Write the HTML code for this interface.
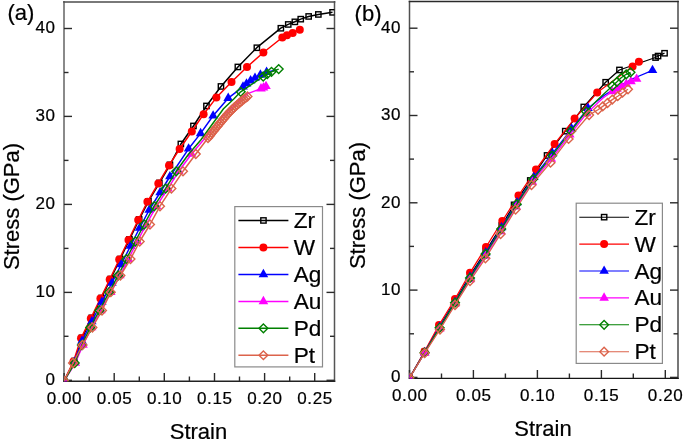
<!DOCTYPE html>
<html><head><meta charset="utf-8"><style>
html,body{margin:0;padding:0;background:#fff;}
svg{display:block;will-change:transform;}
text{font-family:"Liberation Sans", sans-serif;fill:#000;stroke:#000;stroke-width:0.22px;}
</style></head><body>
<svg width="685" height="440" viewBox="0 0 685 440">
<rect width="685" height="440" fill="#fff"/>
<line x1="64" y1="1.0" x2="64" y2="381.8" stroke="#8a8a8a" stroke-width="2"/>
<line x1="334.5" y1="1.0" x2="334.5" y2="381.8" stroke="#555" stroke-width="1.5"/>
<line x1="63.2" y1="2.0" x2="335.3" y2="2.0" stroke="#4d4d4d" stroke-width="1.6"/>
<line x1="63.2" y1="381.2" x2="335.3" y2="381.2" stroke="#222" stroke-width="1.6"/>
<line x1="64" y1="380.3" x2="72" y2="380.3" stroke="#2a2a2a" stroke-width="1.4"/>
<line x1="334.5" y1="380.3" x2="326.5" y2="380.3" stroke="#2a2a2a" stroke-width="1.4"/>
<line x1="64" y1="292.4" x2="72" y2="292.4" stroke="#2a2a2a" stroke-width="1.4"/>
<line x1="334.5" y1="292.4" x2="326.5" y2="292.4" stroke="#2a2a2a" stroke-width="1.4"/>
<line x1="64" y1="204.4" x2="72" y2="204.4" stroke="#2a2a2a" stroke-width="1.4"/>
<line x1="334.5" y1="204.4" x2="326.5" y2="204.4" stroke="#2a2a2a" stroke-width="1.4"/>
<line x1="64" y1="116.4" x2="72" y2="116.4" stroke="#2a2a2a" stroke-width="1.4"/>
<line x1="334.5" y1="116.4" x2="326.5" y2="116.4" stroke="#2a2a2a" stroke-width="1.4"/>
<line x1="64" y1="28.5" x2="72" y2="28.5" stroke="#2a2a2a" stroke-width="1.4"/>
<line x1="334.5" y1="28.5" x2="326.5" y2="28.5" stroke="#2a2a2a" stroke-width="1.4"/>
<line x1="64" y1="336.3" x2="68.5" y2="336.3" stroke="#2a2a2a" stroke-width="1.4"/>
<line x1="334.5" y1="336.3" x2="330.0" y2="336.3" stroke="#2a2a2a" stroke-width="1.4"/>
<line x1="64" y1="248.4" x2="68.5" y2="248.4" stroke="#2a2a2a" stroke-width="1.4"/>
<line x1="334.5" y1="248.4" x2="330.0" y2="248.4" stroke="#2a2a2a" stroke-width="1.4"/>
<line x1="64" y1="160.4" x2="68.5" y2="160.4" stroke="#2a2a2a" stroke-width="1.4"/>
<line x1="334.5" y1="160.4" x2="330.0" y2="160.4" stroke="#2a2a2a" stroke-width="1.4"/>
<line x1="64" y1="72.5" x2="68.5" y2="72.5" stroke="#2a2a2a" stroke-width="1.4"/>
<line x1="334.5" y1="72.5" x2="330.0" y2="72.5" stroke="#2a2a2a" stroke-width="1.4"/>
<line x1="64.1" y1="381" x2="64.1" y2="373" stroke="#2a2a2a" stroke-width="1.4"/>
<line x1="114.2" y1="381" x2="114.2" y2="373" stroke="#2a2a2a" stroke-width="1.4"/>
<line x1="164.3" y1="381" x2="164.3" y2="373" stroke="#2a2a2a" stroke-width="1.4"/>
<line x1="214.5" y1="381" x2="214.5" y2="373" stroke="#2a2a2a" stroke-width="1.4"/>
<line x1="264.6" y1="381" x2="264.6" y2="373" stroke="#2a2a2a" stroke-width="1.4"/>
<line x1="314.7" y1="381" x2="314.7" y2="373" stroke="#2a2a2a" stroke-width="1.4"/>
<line x1="89.2" y1="381" x2="89.2" y2="376.5" stroke="#2a2a2a" stroke-width="1.4"/>
<line x1="139.3" y1="381" x2="139.3" y2="376.5" stroke="#2a2a2a" stroke-width="1.4"/>
<line x1="189.4" y1="381" x2="189.4" y2="376.5" stroke="#2a2a2a" stroke-width="1.4"/>
<line x1="239.5" y1="381" x2="239.5" y2="376.5" stroke="#2a2a2a" stroke-width="1.4"/>
<line x1="289.7" y1="381" x2="289.7" y2="376.5" stroke="#2a2a2a" stroke-width="1.4"/>
<text x="55.5" y="385.0" text-anchor="end" font-size="17" letter-spacing="0.6">0</text>
<text x="55.5" y="297.1" text-anchor="end" font-size="17" letter-spacing="0.6">10</text>
<text x="55.5" y="209.1" text-anchor="end" font-size="17" letter-spacing="0.6">20</text>
<text x="55.5" y="121.1" text-anchor="end" font-size="17" letter-spacing="0.6">30</text>
<text x="55.5" y="33.2" text-anchor="end" font-size="17" letter-spacing="0.6">40</text>
<text x="64.4" y="404.2" text-anchor="middle" font-size="17" letter-spacing="0.6">0.00</text>
<text x="114.5" y="404.2" text-anchor="middle" font-size="17" letter-spacing="0.6">0.05</text>
<text x="164.7" y="404.2" text-anchor="middle" font-size="17" letter-spacing="0.6">0.10</text>
<text x="214.8" y="404.2" text-anchor="middle" font-size="17" letter-spacing="0.6">0.15</text>
<text x="264.9" y="404.2" text-anchor="middle" font-size="17" letter-spacing="0.6">0.20</text>
<text x="315.0" y="404.2" text-anchor="middle" font-size="17" letter-spacing="0.6">0.25</text>
<defs><clipPath id="ca"><rect x="64" y="2" width="270.5" height="379.2"/></clipPath><clipPath id="cb"><rect x="409.5" y="1.5" width="268.5" height="376.9"/></clipPath></defs>
<g clip-path="url(#ca)">
<path d="M64.0,381.0 L74.5,361.0 L82.0,337.8 L91.8,317.9 L101.4,298.0 L110.7,279.0 L120.2,259.0 L129.5,239.5 L139.2,219.5 L148.4,201.3 L159.3,183.0 L170.0,164.9 L180.9,144.0 L193.4,126.0 L206.4,106.0 L221.0,86.5 L237.9,67.0 L256.8,47.7 L280.8,28.2 L288.2,24.4 L294.8,21.8 L300.7,19.1 L308.6,16.5 L318.3,14.4 L332.5,12.3" fill="none" stroke="#000000" stroke-width="1.5" stroke-linejoin="round"/>
<rect x="61.4" y="378.4" width="5.3" height="5.3" fill="none" stroke="#000000" stroke-width="1.4"/>
<rect x="71.8" y="358.4" width="5.3" height="5.3" fill="none" stroke="#000000" stroke-width="1.4"/>
<rect x="79.3" y="335.2" width="5.3" height="5.3" fill="none" stroke="#000000" stroke-width="1.4"/>
<rect x="89.1" y="315.2" width="5.3" height="5.3" fill="none" stroke="#000000" stroke-width="1.4"/>
<rect x="98.8" y="295.4" width="5.3" height="5.3" fill="none" stroke="#000000" stroke-width="1.4"/>
<rect x="108.0" y="276.4" width="5.3" height="5.3" fill="none" stroke="#000000" stroke-width="1.4"/>
<rect x="117.5" y="256.4" width="5.3" height="5.3" fill="none" stroke="#000000" stroke-width="1.4"/>
<rect x="126.8" y="236.8" width="5.3" height="5.3" fill="none" stroke="#000000" stroke-width="1.4"/>
<rect x="136.5" y="216.8" width="5.3" height="5.3" fill="none" stroke="#000000" stroke-width="1.4"/>
<rect x="145.8" y="198.7" width="5.3" height="5.3" fill="none" stroke="#000000" stroke-width="1.4"/>
<rect x="156.7" y="180.3" width="5.3" height="5.3" fill="none" stroke="#000000" stroke-width="1.4"/>
<rect x="167.3" y="162.2" width="5.3" height="5.3" fill="none" stroke="#000000" stroke-width="1.4"/>
<rect x="178.2" y="141.3" width="5.3" height="5.3" fill="none" stroke="#000000" stroke-width="1.4"/>
<rect x="190.8" y="123.3" width="5.3" height="5.3" fill="none" stroke="#000000" stroke-width="1.4"/>
<rect x="203.8" y="103.3" width="5.3" height="5.3" fill="none" stroke="#000000" stroke-width="1.4"/>
<rect x="218.3" y="83.8" width="5.3" height="5.3" fill="none" stroke="#000000" stroke-width="1.4"/>
<rect x="235.2" y="64.3" width="5.3" height="5.3" fill="none" stroke="#000000" stroke-width="1.4"/>
<rect x="254.2" y="45.1" width="5.3" height="5.3" fill="none" stroke="#000000" stroke-width="1.4"/>
<rect x="278.2" y="25.6" width="5.3" height="5.3" fill="none" stroke="#000000" stroke-width="1.4"/>
<rect x="285.6" y="21.8" width="5.3" height="5.3" fill="none" stroke="#000000" stroke-width="1.4"/>
<rect x="292.2" y="19.2" width="5.3" height="5.3" fill="none" stroke="#000000" stroke-width="1.4"/>
<rect x="298.1" y="16.5" width="5.3" height="5.3" fill="none" stroke="#000000" stroke-width="1.4"/>
<rect x="306.0" y="13.8" width="5.3" height="5.3" fill="none" stroke="#000000" stroke-width="1.4"/>
<rect x="315.7" y="11.8" width="5.3" height="5.3" fill="none" stroke="#000000" stroke-width="1.4"/>
<rect x="329.9" y="9.7" width="5.3" height="5.3" fill="none" stroke="#000000" stroke-width="1.4"/>
<path d="M64.0,381.0 L73.5,361.5 L81.0,338.3 L90.8,318.4 L100.4,298.5 L109.7,279.5 L119.2,259.5 L128.5,240.0 L138.2,220.0 L147.4,201.8 L158.3,183.5 L169.0,165.4 L179.6,149.0 L191.8,131.5 L203.6,114.2 L216.4,97.6 L231.5,82.0 L247.0,67.0 L263.4,52.5 L282.3,37.5 L287.0,35.2 L292.7,33.0 L299.8,29.8" fill="none" stroke="#ff0000" stroke-width="1.5" stroke-linejoin="round"/>
<circle cx="64.0" cy="381.0" r="4.0" fill="#ff0000"/>
<circle cx="73.5" cy="361.5" r="4.0" fill="#ff0000"/>
<circle cx="81.0" cy="338.3" r="4.0" fill="#ff0000"/>
<circle cx="90.8" cy="318.4" r="4.0" fill="#ff0000"/>
<circle cx="100.4" cy="298.5" r="4.0" fill="#ff0000"/>
<circle cx="109.7" cy="279.5" r="4.0" fill="#ff0000"/>
<circle cx="119.2" cy="259.5" r="4.0" fill="#ff0000"/>
<circle cx="128.5" cy="240.0" r="4.0" fill="#ff0000"/>
<circle cx="138.2" cy="220.0" r="4.0" fill="#ff0000"/>
<circle cx="147.4" cy="201.8" r="4.0" fill="#ff0000"/>
<circle cx="158.3" cy="183.5" r="4.0" fill="#ff0000"/>
<circle cx="169.0" cy="165.4" r="4.0" fill="#ff0000"/>
<circle cx="179.6" cy="149.0" r="4.0" fill="#ff0000"/>
<circle cx="191.8" cy="131.5" r="4.0" fill="#ff0000"/>
<circle cx="203.6" cy="114.2" r="4.0" fill="#ff0000"/>
<circle cx="216.4" cy="97.6" r="4.0" fill="#ff0000"/>
<circle cx="231.5" cy="82.0" r="4.0" fill="#ff0000"/>
<circle cx="247.0" cy="67.0" r="4.0" fill="#ff0000"/>
<circle cx="263.4" cy="52.5" r="4.0" fill="#ff0000"/>
<circle cx="282.3" cy="37.5" r="4.0" fill="#ff0000"/>
<circle cx="287.0" cy="35.2" r="4.0" fill="#ff0000"/>
<circle cx="292.7" cy="33.0" r="4.0" fill="#ff0000"/>
<circle cx="299.8" cy="29.8" r="4.0" fill="#ff0000"/>
<path d="M64.0,381.0 L74.3,362.0 L82.0,341.0 L91.8,321.5 L101.8,302.0 L111.9,283.0 L121.2,264.5 L130.5,246.0 L139.6,228.0 L149.2,210.0 L160.1,192.5 L169.9,176.5 L188.6,148.8 L200.6,133.4 L213.1,115.8 L228.2,98.2 L243.0,86.8 L246.5,83.8 L250.6,80.6 L255.0,78.0 L260.4,74.9 L266.6,72.2 L276.5,70.0" fill="none" stroke="#0000ff" stroke-width="1.5" stroke-linejoin="round"/>
<path d="M64.0,375.4L68.8,383.8L59.2,383.8Z" fill="#0000ff"/>
<path d="M74.3,356.4L79.1,364.8L69.5,364.8Z" fill="#0000ff"/>
<path d="M82.0,335.4L86.8,343.8L77.2,343.8Z" fill="#0000ff"/>
<path d="M91.8,315.9L96.6,324.3L87.0,324.3Z" fill="#0000ff"/>
<path d="M101.8,296.4L106.6,304.8L97.0,304.8Z" fill="#0000ff"/>
<path d="M111.9,277.4L116.7,285.8L107.1,285.8Z" fill="#0000ff"/>
<path d="M121.2,258.9L126.0,267.3L116.4,267.3Z" fill="#0000ff"/>
<path d="M130.5,240.4L135.3,248.8L125.7,248.8Z" fill="#0000ff"/>
<path d="M139.6,222.4L144.4,230.8L134.8,230.8Z" fill="#0000ff"/>
<path d="M149.2,204.4L154.0,212.8L144.4,212.8Z" fill="#0000ff"/>
<path d="M160.1,186.9L164.9,195.3L155.3,195.3Z" fill="#0000ff"/>
<path d="M169.9,170.9L174.7,179.3L165.1,179.3Z" fill="#0000ff"/>
<path d="M188.6,143.2L193.4,151.6L183.8,151.6Z" fill="#0000ff"/>
<path d="M200.6,127.8L205.4,136.2L195.8,136.2Z" fill="#0000ff"/>
<path d="M213.1,110.2L217.9,118.6L208.3,118.6Z" fill="#0000ff"/>
<path d="M228.2,92.6L233.0,101.0L223.4,101.0Z" fill="#0000ff"/>
<path d="M243.0,81.2L247.8,89.6L238.2,89.6Z" fill="#0000ff"/>
<path d="M246.5,78.2L251.3,86.6L241.7,86.6Z" fill="#0000ff"/>
<path d="M250.6,75.0L255.4,83.4L245.8,83.4Z" fill="#0000ff"/>
<path d="M255.0,72.4L259.8,80.8L250.2,80.8Z" fill="#0000ff"/>
<path d="M260.4,69.3L265.2,77.7L255.6,77.7Z" fill="#0000ff"/>
<path d="M266.6,66.6L271.4,75.0L261.8,75.0Z" fill="#0000ff"/>
<path d="M64.0,381.0 L75.3,363.0 L83.0,345.0 L91.6,327.5 L100.9,310.5 L110.8,292.2 L119.9,275.5 L128.3,259.1 L137.3,241.5 L146.3,224.5 L156.5,206.2 L167.9,188.6 L178.7,171.3 L191.5,154.0 L206.0,137.0 L214.0,126.0 L225.0,114.0 L237.0,103.0 L247.8,93.6 L261.0,88.7 L263.5,87.6 L266.0,86.3" fill="none" stroke="#ff00ff" stroke-width="1.5" stroke-linejoin="round"/>
<path d="M64.0,375.4L68.8,383.8L59.2,383.8Z" fill="#ff00ff"/>
<path d="M75.3,357.4L80.1,365.8L70.5,365.8Z" fill="#ff00ff"/>
<path d="M83.0,339.4L87.8,347.8L78.2,347.8Z" fill="#ff00ff"/>
<path d="M91.6,321.9L96.4,330.3L86.8,330.3Z" fill="#ff00ff"/>
<path d="M100.9,304.9L105.7,313.3L96.1,313.3Z" fill="#ff00ff"/>
<path d="M110.8,286.6L115.6,295.0L106.0,295.0Z" fill="#ff00ff"/>
<path d="M119.9,269.9L124.7,278.3L115.1,278.3Z" fill="#ff00ff"/>
<path d="M128.3,253.5L133.1,261.9L123.5,261.9Z" fill="#ff00ff"/>
<path d="M137.3,235.9L142.1,244.3L132.5,244.3Z" fill="#ff00ff"/>
<path d="M146.3,218.9L151.1,227.3L141.5,227.3Z" fill="#ff00ff"/>
<path d="M156.5,200.7L161.3,209.1L151.7,209.1Z" fill="#ff00ff"/>
<path d="M167.9,183.0L172.7,191.4L163.1,191.4Z" fill="#ff00ff"/>
<path d="M178.7,165.7L183.5,174.1L173.9,174.1Z" fill="#ff00ff"/>
<path d="M191.5,148.4L196.3,156.8L186.7,156.8Z" fill="#ff00ff"/>
<path d="M261.0,83.1L265.8,91.5L256.2,91.5Z" fill="#ff00ff"/>
<path d="M263.5,82.0L268.3,90.4L258.7,90.4Z" fill="#ff00ff"/>
<path d="M266.0,80.7L270.8,89.1L261.2,89.1Z" fill="#ff00ff"/>
<path d="M64.0,381.0 L74.7,363.0 L81.9,345.0 L90.2,327.5 L99.4,310.5 L109.1,292.2 L118.1,275.5 L126.4,259.1 L135.3,241.5 L144.1,224.5 L154.2,206.2 L165.6,188.6 L176.2,171.3 L188.7,154.0 L200.8,140.0 L223.5,108.8 L234.0,98.8 L240.7,91.8 L263.2,76.5 L267.3,74.0 L271.5,71.8 L278.7,69.1" fill="none" stroke="#008000" stroke-width="1.5" stroke-linejoin="round"/>
<path d="M64.0,376.6L68.4,381.0L64.0,385.4L59.6,381.0Z" fill="none" stroke="#008000" stroke-width="1.4"/>
<path d="M74.7,358.6L79.1,363.0L74.7,367.4L70.3,363.0Z" fill="none" stroke="#008000" stroke-width="1.4"/>
<path d="M81.9,340.6L86.3,345.0L81.9,349.4L77.5,345.0Z" fill="none" stroke="#008000" stroke-width="1.4"/>
<path d="M90.2,323.1L94.6,327.5L90.2,331.9L85.8,327.5Z" fill="none" stroke="#008000" stroke-width="1.4"/>
<path d="M99.4,306.1L103.8,310.5L99.4,314.9L95.0,310.5Z" fill="none" stroke="#008000" stroke-width="1.4"/>
<path d="M109.1,287.8L113.5,292.2L109.1,296.6L104.7,292.2Z" fill="none" stroke="#008000" stroke-width="1.4"/>
<path d="M118.1,271.1L122.5,275.5L118.1,279.9L113.7,275.5Z" fill="none" stroke="#008000" stroke-width="1.4"/>
<path d="M126.4,254.7L130.8,259.1L126.4,263.5L122.0,259.1Z" fill="none" stroke="#008000" stroke-width="1.4"/>
<path d="M135.3,237.1L139.7,241.5L135.3,245.9L130.9,241.5Z" fill="none" stroke="#008000" stroke-width="1.4"/>
<path d="M144.1,220.1L148.5,224.5L144.1,228.9L139.7,224.5Z" fill="none" stroke="#008000" stroke-width="1.4"/>
<path d="M154.2,201.8L158.6,206.2L154.2,210.7L149.8,206.2Z" fill="none" stroke="#008000" stroke-width="1.4"/>
<path d="M165.6,184.2L170.0,188.6L165.6,193.0L161.2,188.6Z" fill="none" stroke="#008000" stroke-width="1.4"/>
<path d="M176.2,166.9L180.6,171.3L176.2,175.7L171.8,171.3Z" fill="none" stroke="#008000" stroke-width="1.4"/>
<path d="M240.7,87.4L245.1,91.8L240.7,96.2L236.3,91.8Z" fill="none" stroke="#008000" stroke-width="1.4"/>
<path d="M263.2,72.1L267.6,76.5L263.2,80.9L258.8,76.5Z" fill="none" stroke="#008000" stroke-width="1.4"/>
<path d="M267.3,69.6L271.7,74.0L267.3,78.4L262.9,74.0Z" fill="none" stroke="#008000" stroke-width="1.4"/>
<path d="M271.5,67.4L275.9,71.8L271.5,76.2L267.1,71.8Z" fill="none" stroke="#008000" stroke-width="1.4"/>
<path d="M278.7,64.7L283.1,69.1L278.7,73.5L274.3,69.1Z" fill="none" stroke="#008000" stroke-width="1.4"/>
<path d="M64.0,381.0 L73.0,363.0 L82.5,345.0 L92.4,327.5 L102.0,310.5 L110.8,292.2 L120.4,275.5 L130.5,259.1 L139.7,241.5 L150.0,224.5 L160.0,206.2 L171.4,188.6 L183.0,171.3 L195.8,154.0 L208.0,138.0 L209.4,136.3 L210.7,134.5 L212.1,132.8 L213.5,131.1 L214.9,129.4 L216.3,127.6 L217.7,125.9 L219.1,124.2 L220.5,122.5 L222.0,120.8 L223.4,119.1 L224.8,117.5 L226.2,115.8 L227.7,114.1 L229.2,112.5 L230.8,110.9 L232.3,109.4 L233.9,107.8 L235.5,106.3 L237.2,104.8 L238.9,103.4 L240.5,102.0 L242.2,100.5 L244.0,99.2 L245.7,97.8 L247.5,96.5" fill="none" stroke="#dc634b" stroke-width="1.5" stroke-linejoin="round"/>
<path d="M64.0,376.6L68.4,381.0L64.0,385.4L59.6,381.0Z" fill="none" stroke="#dc634b" stroke-width="1.4"/>
<path d="M73.0,358.6L77.4,363.0L73.0,367.4L68.6,363.0Z" fill="none" stroke="#dc634b" stroke-width="1.4"/>
<path d="M82.5,340.6L86.9,345.0L82.5,349.4L78.1,345.0Z" fill="none" stroke="#dc634b" stroke-width="1.4"/>
<path d="M92.4,323.1L96.8,327.5L92.4,331.9L88.0,327.5Z" fill="none" stroke="#dc634b" stroke-width="1.4"/>
<path d="M102.0,306.1L106.4,310.5L102.0,314.9L97.6,310.5Z" fill="none" stroke="#dc634b" stroke-width="1.4"/>
<path d="M110.8,287.8L115.2,292.2L110.8,296.6L106.4,292.2Z" fill="none" stroke="#dc634b" stroke-width="1.4"/>
<path d="M120.4,271.1L124.8,275.5L120.4,279.9L116.0,275.5Z" fill="none" stroke="#dc634b" stroke-width="1.4"/>
<path d="M130.5,254.7L134.9,259.1L130.5,263.5L126.1,259.1Z" fill="none" stroke="#dc634b" stroke-width="1.4"/>
<path d="M139.7,237.1L144.1,241.5L139.7,245.9L135.3,241.5Z" fill="none" stroke="#dc634b" stroke-width="1.4"/>
<path d="M150.0,220.1L154.4,224.5L150.0,228.9L145.6,224.5Z" fill="none" stroke="#dc634b" stroke-width="1.4"/>
<path d="M160.0,201.8L164.4,206.2L160.0,210.7L155.6,206.2Z" fill="none" stroke="#dc634b" stroke-width="1.4"/>
<path d="M171.4,184.2L175.8,188.6L171.4,193.0L167.0,188.6Z" fill="none" stroke="#dc634b" stroke-width="1.4"/>
<path d="M183.0,166.9L187.4,171.3L183.0,175.7L178.6,171.3Z" fill="none" stroke="#dc634b" stroke-width="1.4"/>
<path d="M195.8,149.6L200.2,154.0L195.8,158.4L191.4,154.0Z" fill="none" stroke="#dc634b" stroke-width="1.4"/>
<path d="M208.0,133.6L212.4,138.0L208.0,142.4L203.6,138.0Z" fill="none" stroke="#dc634b" stroke-width="1.4"/>
<path d="M209.4,131.9L213.8,136.3L209.4,140.7L205.0,136.3Z" fill="none" stroke="#dc634b" stroke-width="1.4"/>
<path d="M210.7,130.1L215.1,134.5L210.7,138.9L206.3,134.5Z" fill="none" stroke="#dc634b" stroke-width="1.4"/>
<path d="M212.1,128.4L216.5,132.8L212.1,137.2L207.7,132.8Z" fill="none" stroke="#dc634b" stroke-width="1.4"/>
<path d="M213.5,126.7L217.9,131.1L213.5,135.5L209.1,131.1Z" fill="none" stroke="#dc634b" stroke-width="1.4"/>
<path d="M214.9,125.0L219.3,129.4L214.9,133.8L210.5,129.4Z" fill="none" stroke="#dc634b" stroke-width="1.4"/>
<path d="M216.3,123.2L220.7,127.6L216.3,132.0L211.9,127.6Z" fill="none" stroke="#dc634b" stroke-width="1.4"/>
<path d="M217.7,121.5L222.1,125.9L217.7,130.3L213.3,125.9Z" fill="none" stroke="#dc634b" stroke-width="1.4"/>
<path d="M219.1,119.8L223.5,124.2L219.1,128.6L214.7,124.2Z" fill="none" stroke="#dc634b" stroke-width="1.4"/>
<path d="M220.5,118.1L224.9,122.5L220.5,126.9L216.1,122.5Z" fill="none" stroke="#dc634b" stroke-width="1.4"/>
<path d="M222.0,116.4L226.4,120.8L222.0,125.2L217.6,120.8Z" fill="none" stroke="#dc634b" stroke-width="1.4"/>
<path d="M223.4,114.7L227.8,119.1L223.4,123.5L219.0,119.1Z" fill="none" stroke="#dc634b" stroke-width="1.4"/>
<path d="M224.8,113.1L229.2,117.5L224.8,121.9L220.4,117.5Z" fill="none" stroke="#dc634b" stroke-width="1.4"/>
<path d="M226.2,111.4L230.6,115.8L226.2,120.2L221.8,115.8Z" fill="none" stroke="#dc634b" stroke-width="1.4"/>
<path d="M227.7,109.7L232.1,114.1L227.7,118.5L223.3,114.1Z" fill="none" stroke="#dc634b" stroke-width="1.4"/>
<path d="M229.2,108.1L233.6,112.5L229.2,116.9L224.8,112.5Z" fill="none" stroke="#dc634b" stroke-width="1.4"/>
<path d="M230.8,106.5L235.2,110.9L230.8,115.3L226.4,110.9Z" fill="none" stroke="#dc634b" stroke-width="1.4"/>
<path d="M232.3,105.0L236.7,109.4L232.3,113.8L227.9,109.4Z" fill="none" stroke="#dc634b" stroke-width="1.4"/>
<path d="M233.9,103.4L238.3,107.8L233.9,112.2L229.5,107.8Z" fill="none" stroke="#dc634b" stroke-width="1.4"/>
<path d="M235.5,101.9L239.9,106.3L235.5,110.7L231.1,106.3Z" fill="none" stroke="#dc634b" stroke-width="1.4"/>
<path d="M237.2,100.4L241.6,104.8L237.2,109.2L232.8,104.8Z" fill="none" stroke="#dc634b" stroke-width="1.4"/>
<path d="M238.9,99.0L243.3,103.4L238.9,107.8L234.5,103.4Z" fill="none" stroke="#dc634b" stroke-width="1.4"/>
<path d="M240.5,97.6L244.9,102.0L240.5,106.4L236.1,102.0Z" fill="none" stroke="#dc634b" stroke-width="1.4"/>
<path d="M242.2,96.1L246.6,100.5L242.2,104.9L237.8,100.5Z" fill="none" stroke="#dc634b" stroke-width="1.4"/>
<path d="M244.0,94.8L248.4,99.2L244.0,103.6L239.6,99.2Z" fill="none" stroke="#dc634b" stroke-width="1.4"/>
<path d="M245.7,93.4L250.1,97.8L245.7,102.2L241.3,97.8Z" fill="none" stroke="#dc634b" stroke-width="1.4"/>
<path d="M247.5,92.1L251.9,96.5L247.5,100.9L243.1,96.5Z" fill="none" stroke="#dc634b" stroke-width="1.4"/>
</g>
<rect x="234.8" y="206.6" width="87.7" height="160.3" fill="#fff" stroke="#8a8a8a" stroke-width="1.2"/>
<line x1="238.4" y1="220.5" x2="288.4" y2="220.5" stroke="#000000" stroke-width="1.5"/>
<rect x="260.8" y="217.8" width="5.3" height="5.3" fill="none" stroke="#000000" stroke-width="1.4"/>
<text x="293.8" y="228.0" font-size="22.6">Zr</text>
<line x1="238.4" y1="247.4" x2="288.4" y2="247.4" stroke="#ff0000" stroke-width="1.5"/>
<circle cx="263.4" cy="247.4" r="4.0" fill="#ff0000"/>
<text x="293.8" y="254.9" font-size="22.6">W</text>
<line x1="238.4" y1="274.4" x2="288.4" y2="274.4" stroke="#0000ff" stroke-width="1.5"/>
<path d="M263.4,268.8L268.2,277.2L258.6,277.2Z" fill="#0000ff"/>
<text x="293.8" y="281.9" font-size="22.6">Ag</text>
<line x1="238.4" y1="301.4" x2="288.4" y2="301.4" stroke="#ff00ff" stroke-width="1.5"/>
<path d="M263.4,295.8L268.2,304.2L258.6,304.2Z" fill="#ff00ff"/>
<text x="293.8" y="308.9" font-size="22.6">Au</text>
<line x1="238.4" y1="328.3" x2="288.4" y2="328.3" stroke="#008000" stroke-width="1.5"/>
<path d="M263.4,323.9L267.8,328.3L263.4,332.7L259.0,328.3Z" fill="none" stroke="#008000" stroke-width="1.4"/>
<text x="293.8" y="335.8" font-size="22.6">Pd</text>
<line x1="238.4" y1="355.2" x2="288.4" y2="355.2" stroke="#dc634b" stroke-width="1.5"/>
<path d="M263.4,350.9L267.8,355.2L263.4,359.6L259.0,355.2Z" fill="none" stroke="#dc634b" stroke-width="1.4"/>
<text x="293.8" y="362.8" font-size="22.6">Pt</text>
<text x="7.5" y="20" font-size="22">(a)</text>
<text x="0" y="0" font-size="22" text-anchor="middle" transform="translate(18.7,206.5) rotate(-90)">Stress (GPa)</text>
<text x="198.5" y="438.5" font-size="22" text-anchor="middle">Strain</text>
<line x1="409.5" y1="0.8" x2="409.5" y2="378.8" stroke="#505050" stroke-width="1.5"/>
<line x1="678" y1="0.8" x2="678" y2="378.8" stroke="#777" stroke-width="2"/>
<line x1="408.7" y1="1.5" x2="678.8" y2="1.5" stroke="#2a2a2a" stroke-width="1.5"/>
<line x1="408.7" y1="378.4" x2="678.8" y2="378.4" stroke="#151515" stroke-width="1.4"/>
<line x1="409.5" y1="377.4" x2="417.5" y2="377.4" stroke="#2a2a2a" stroke-width="1.4"/>
<line x1="678" y1="377.4" x2="670" y2="377.4" stroke="#2a2a2a" stroke-width="1.4"/>
<line x1="409.5" y1="290.1" x2="417.5" y2="290.1" stroke="#2a2a2a" stroke-width="1.4"/>
<line x1="678" y1="290.1" x2="670" y2="290.1" stroke="#2a2a2a" stroke-width="1.4"/>
<line x1="409.5" y1="202.8" x2="417.5" y2="202.8" stroke="#2a2a2a" stroke-width="1.4"/>
<line x1="678" y1="202.8" x2="670" y2="202.8" stroke="#2a2a2a" stroke-width="1.4"/>
<line x1="409.5" y1="115.5" x2="417.5" y2="115.5" stroke="#2a2a2a" stroke-width="1.4"/>
<line x1="678" y1="115.5" x2="670" y2="115.5" stroke="#2a2a2a" stroke-width="1.4"/>
<line x1="409.5" y1="28.2" x2="417.5" y2="28.2" stroke="#2a2a2a" stroke-width="1.4"/>
<line x1="678" y1="28.2" x2="670" y2="28.2" stroke="#2a2a2a" stroke-width="1.4"/>
<line x1="409.5" y1="333.8" x2="414.0" y2="333.8" stroke="#2a2a2a" stroke-width="1.4"/>
<line x1="678" y1="333.8" x2="673.5" y2="333.8" stroke="#2a2a2a" stroke-width="1.4"/>
<line x1="409.5" y1="246.4" x2="414.0" y2="246.4" stroke="#2a2a2a" stroke-width="1.4"/>
<line x1="678" y1="246.4" x2="673.5" y2="246.4" stroke="#2a2a2a" stroke-width="1.4"/>
<line x1="409.5" y1="159.1" x2="414.0" y2="159.1" stroke="#2a2a2a" stroke-width="1.4"/>
<line x1="678" y1="159.1" x2="673.5" y2="159.1" stroke="#2a2a2a" stroke-width="1.4"/>
<line x1="409.5" y1="71.8" x2="414.0" y2="71.8" stroke="#2a2a2a" stroke-width="1.4"/>
<line x1="678" y1="71.8" x2="673.5" y2="71.8" stroke="#2a2a2a" stroke-width="1.4"/>
<line x1="409.5" y1="378" x2="409.5" y2="370" stroke="#2a2a2a" stroke-width="1.4"/>
<line x1="473.4" y1="378" x2="473.4" y2="370" stroke="#2a2a2a" stroke-width="1.4"/>
<line x1="537.4" y1="378" x2="537.4" y2="370" stroke="#2a2a2a" stroke-width="1.4"/>
<line x1="601.4" y1="378" x2="601.4" y2="370" stroke="#2a2a2a" stroke-width="1.4"/>
<line x1="665.3" y1="378" x2="665.3" y2="370" stroke="#2a2a2a" stroke-width="1.4"/>
<line x1="441.5" y1="378" x2="441.5" y2="373.5" stroke="#2a2a2a" stroke-width="1.4"/>
<line x1="505.4" y1="378" x2="505.4" y2="373.5" stroke="#2a2a2a" stroke-width="1.4"/>
<line x1="569.4" y1="378" x2="569.4" y2="373.5" stroke="#2a2a2a" stroke-width="1.4"/>
<line x1="633.3" y1="378" x2="633.3" y2="373.5" stroke="#2a2a2a" stroke-width="1.4"/>
<text x="401" y="382.1" text-anchor="end" font-size="17" letter-spacing="0.6">0</text>
<text x="401" y="294.8" text-anchor="end" font-size="17" letter-spacing="0.6">10</text>
<text x="401" y="207.5" text-anchor="end" font-size="17" letter-spacing="0.6">20</text>
<text x="401" y="120.2" text-anchor="end" font-size="17" letter-spacing="0.6">30</text>
<text x="401" y="32.9" text-anchor="end" font-size="17" letter-spacing="0.6">40</text>
<text x="409.8" y="400.9" text-anchor="middle" font-size="17" letter-spacing="0.6">0.00</text>
<text x="473.8" y="400.9" text-anchor="middle" font-size="17" letter-spacing="0.6">0.05</text>
<text x="537.7" y="400.9" text-anchor="middle" font-size="17" letter-spacing="0.6">0.10</text>
<text x="601.6" y="400.9" text-anchor="middle" font-size="17" letter-spacing="0.6">0.15</text>
<text x="665.6" y="400.9" text-anchor="middle" font-size="17" letter-spacing="0.6">0.20</text>
<g clip-path="url(#cb)">
<path d="M409.5,378.0 L424.5,352.1 L439.4,326.6 L455.0,301.1 L470.0,275.7 L485.8,251.0 L501.7,225.6 L514.0,204.8 L530.2,180.4 L547.0,155.5 L565.3,131.2 L583.7,107.0 L605.6,82.3 L619.4,70.0 L655.5,57.5 L658.0,56.0 L664.5,53.2" fill="none" stroke="#000000" stroke-width="1.3" stroke-linejoin="round"/>
<rect x="406.9" y="375.4" width="5.3" height="5.3" fill="none" stroke="#000000" stroke-width="1.4"/>
<rect x="421.9" y="349.4" width="5.3" height="5.3" fill="none" stroke="#000000" stroke-width="1.4"/>
<rect x="436.7" y="323.9" width="5.3" height="5.3" fill="none" stroke="#000000" stroke-width="1.4"/>
<rect x="452.4" y="298.5" width="5.3" height="5.3" fill="none" stroke="#000000" stroke-width="1.4"/>
<rect x="467.4" y="273.0" width="5.3" height="5.3" fill="none" stroke="#000000" stroke-width="1.4"/>
<rect x="483.1" y="248.3" width="5.3" height="5.3" fill="none" stroke="#000000" stroke-width="1.4"/>
<rect x="499.1" y="222.9" width="5.3" height="5.3" fill="none" stroke="#000000" stroke-width="1.4"/>
<rect x="511.4" y="202.2" width="5.3" height="5.3" fill="none" stroke="#000000" stroke-width="1.4"/>
<rect x="527.6" y="177.8" width="5.3" height="5.3" fill="none" stroke="#000000" stroke-width="1.4"/>
<rect x="544.4" y="152.8" width="5.3" height="5.3" fill="none" stroke="#000000" stroke-width="1.4"/>
<rect x="562.6" y="128.5" width="5.3" height="5.3" fill="none" stroke="#000000" stroke-width="1.4"/>
<rect x="581.1" y="104.3" width="5.3" height="5.3" fill="none" stroke="#000000" stroke-width="1.4"/>
<rect x="603.0" y="79.6" width="5.3" height="5.3" fill="none" stroke="#000000" stroke-width="1.4"/>
<rect x="616.8" y="67.3" width="5.3" height="5.3" fill="none" stroke="#000000" stroke-width="1.4"/>
<rect x="652.9" y="54.9" width="5.3" height="5.3" fill="none" stroke="#000000" stroke-width="1.4"/>
<rect x="655.4" y="53.4" width="5.3" height="5.3" fill="none" stroke="#000000" stroke-width="1.4"/>
<rect x="661.9" y="50.6" width="5.3" height="5.3" fill="none" stroke="#000000" stroke-width="1.4"/>
<path d="M409.5,378.0 L424.5,351.5 L439.0,325.0 L455.0,299.0 L470.0,272.8 L486.0,247.0 L502.3,221.0 L518.5,195.5 L536.0,169.5 L554.6,144.0 L574.6,118.6 L597.2,92.6 L632.6,66.6 L638.9,61.7" fill="none" stroke="#ff0000" stroke-width="1.3" stroke-linejoin="round"/>
<circle cx="409.5" cy="378.0" r="4.0" fill="#ff0000"/>
<circle cx="424.5" cy="351.5" r="4.0" fill="#ff0000"/>
<circle cx="439.0" cy="325.0" r="4.0" fill="#ff0000"/>
<circle cx="455.0" cy="299.0" r="4.0" fill="#ff0000"/>
<circle cx="470.0" cy="272.8" r="4.0" fill="#ff0000"/>
<circle cx="486.0" cy="247.0" r="4.0" fill="#ff0000"/>
<circle cx="502.3" cy="221.0" r="4.0" fill="#ff0000"/>
<circle cx="518.5" cy="195.5" r="4.0" fill="#ff0000"/>
<circle cx="536.0" cy="169.5" r="4.0" fill="#ff0000"/>
<circle cx="554.6" cy="144.0" r="4.0" fill="#ff0000"/>
<circle cx="574.6" cy="118.6" r="4.0" fill="#ff0000"/>
<circle cx="597.2" cy="92.6" r="4.0" fill="#ff0000"/>
<circle cx="632.6" cy="66.6" r="4.0" fill="#ff0000"/>
<circle cx="638.9" cy="61.7" r="4.0" fill="#ff0000"/>
<path d="M409.5,378.0 L424.6,352.4 L439.5,327.2 L455.0,302.0 L470.0,276.9 L485.7,252.7 L501.5,227.5 L517.0,202.5 L533.8,177.2 L552.5,153.3 L571.6,128.8 L588.0,108.2 L604.0,95.5 L614.0,89.0 L624.0,83.5 L632.0,79.0 L652.5,70.3" fill="none" stroke="#0000ff" stroke-width="1.3" stroke-linejoin="round"/>
<path d="M409.5,372.4L414.3,380.8L404.7,380.8Z" fill="#0000ff"/>
<path d="M424.6,346.8L429.4,355.2L419.8,355.2Z" fill="#0000ff"/>
<path d="M439.5,321.6L444.3,330.1L434.7,330.1Z" fill="#0000ff"/>
<path d="M455.0,296.4L459.8,304.8L450.2,304.8Z" fill="#0000ff"/>
<path d="M470.0,271.3L474.8,279.7L465.2,279.7Z" fill="#0000ff"/>
<path d="M485.7,247.1L490.5,255.5L480.9,255.5Z" fill="#0000ff"/>
<path d="M501.5,221.9L506.3,230.3L496.7,230.3Z" fill="#0000ff"/>
<path d="M517.0,196.9L521.8,205.3L512.2,205.3Z" fill="#0000ff"/>
<path d="M533.8,171.7L538.5,180.1L529.0,180.1Z" fill="#0000ff"/>
<path d="M552.5,147.8L557.3,156.2L547.8,156.2Z" fill="#0000ff"/>
<path d="M571.6,123.2L576.4,131.6L566.8,131.6Z" fill="#0000ff"/>
<path d="M588.0,102.6L592.8,111.0L583.2,111.0Z" fill="#0000ff"/>
<path d="M652.5,64.7L657.3,73.1L647.7,73.1Z" fill="#0000ff"/>
<path d="M409.5,378.0 L424.6,352.9 L439.8,328.6 L455.0,303.8 L470.0,279.4 L485.5,256.0 L500.9,231.4 L516.2,206.7 L532.4,181.9 L551.3,159.0 L569.8,134.8 L586.5,113.5 L603.0,98.0 L612.3,91.5 L617.0,89.0 L621.7,86.5 L626.3,84.0 L631.0,81.5 L636.6,79.0" fill="none" stroke="#ff00ff" stroke-width="1.3" stroke-linejoin="round"/>
<path d="M409.5,372.4L414.3,380.8L404.7,380.8Z" fill="#ff00ff"/>
<path d="M424.6,347.3L429.4,355.7L419.8,355.7Z" fill="#ff00ff"/>
<path d="M439.8,323.0L444.6,331.4L435.0,331.4Z" fill="#ff00ff"/>
<path d="M455.0,298.2L459.8,306.6L450.2,306.6Z" fill="#ff00ff"/>
<path d="M470.0,273.8L474.8,282.2L465.2,282.2Z" fill="#ff00ff"/>
<path d="M485.5,250.4L490.3,258.8L480.7,258.8Z" fill="#ff00ff"/>
<path d="M500.9,225.8L505.7,234.2L496.1,234.2Z" fill="#ff00ff"/>
<path d="M516.2,201.1L521.0,209.5L511.4,209.5Z" fill="#ff00ff"/>
<path d="M532.4,176.3L537.2,184.7L527.6,184.7Z" fill="#ff00ff"/>
<path d="M551.3,153.4L556.1,161.8L546.5,161.8Z" fill="#ff00ff"/>
<path d="M569.8,129.2L574.6,137.6L565.0,137.6Z" fill="#ff00ff"/>
<path d="M586.5,107.9L591.3,116.3L581.7,116.3Z" fill="#ff00ff"/>
<path d="M612.3,85.9L617.1,94.3L607.5,94.3Z" fill="#ff00ff"/>
<path d="M617.0,83.4L621.8,91.8L612.2,91.8Z" fill="#ff00ff"/>
<path d="M621.7,80.9L626.5,89.3L616.9,89.3Z" fill="#ff00ff"/>
<path d="M626.3,78.4L631.1,86.8L621.5,86.8Z" fill="#ff00ff"/>
<path d="M631.0,75.9L635.8,84.3L626.2,84.3Z" fill="#ff00ff"/>
<path d="M636.6,73.4L641.4,81.8L631.8,81.8Z" fill="#ff00ff"/>
<path d="M409.5,378.0 L424.6,352.6 L439.6,327.8 L455.0,302.7 L470.0,277.9 L485.6,254.0 L501.2,229.1 L516.7,204.2 L533.2,179.1 L552.1,155.6 L570.9,131.2 L586.0,111.5 L599.0,98.5 L612.3,86.0 L617.0,81.8 L621.2,77.8 L626.2,74.3 L630.5,72.3" fill="none" stroke="#008000" stroke-width="1.3" stroke-linejoin="round"/>
<path d="M409.5,373.6L413.9,378.0L409.5,382.4L405.1,378.0Z" fill="none" stroke="#008000" stroke-width="1.4"/>
<path d="M424.6,348.2L429.0,352.6L424.6,357.0L420.2,352.6Z" fill="none" stroke="#008000" stroke-width="1.4"/>
<path d="M439.6,323.4L444.0,327.8L439.6,332.2L435.2,327.8Z" fill="none" stroke="#008000" stroke-width="1.4"/>
<path d="M455.0,298.3L459.4,302.7L455.0,307.1L450.6,302.7Z" fill="none" stroke="#008000" stroke-width="1.4"/>
<path d="M470.0,273.5L474.4,277.9L470.0,282.3L465.6,277.9Z" fill="none" stroke="#008000" stroke-width="1.4"/>
<path d="M485.6,249.6L490.0,254.0L485.6,258.4L481.2,254.0Z" fill="none" stroke="#008000" stroke-width="1.4"/>
<path d="M501.2,224.7L505.6,229.1L501.2,233.5L496.8,229.1Z" fill="none" stroke="#008000" stroke-width="1.4"/>
<path d="M516.7,199.8L521.1,204.2L516.7,208.6L512.3,204.2Z" fill="none" stroke="#008000" stroke-width="1.4"/>
<path d="M533.2,174.7L537.6,179.1L533.2,183.5L528.8,179.1Z" fill="none" stroke="#008000" stroke-width="1.4"/>
<path d="M552.1,151.2L556.5,155.6L552.1,160.0L547.7,155.6Z" fill="none" stroke="#008000" stroke-width="1.4"/>
<path d="M570.9,126.8L575.3,131.2L570.9,135.6L566.5,131.2Z" fill="none" stroke="#008000" stroke-width="1.4"/>
<path d="M586.0,107.1L590.4,111.5L586.0,115.9L581.6,111.5Z" fill="none" stroke="#008000" stroke-width="1.4"/>
<path d="M612.3,81.6L616.7,86.0L612.3,90.4L607.9,86.0Z" fill="none" stroke="#008000" stroke-width="1.4"/>
<path d="M617.0,77.4L621.4,81.8L617.0,86.2L612.6,81.8Z" fill="none" stroke="#008000" stroke-width="1.4"/>
<path d="M621.2,73.4L625.6,77.8L621.2,82.2L616.8,77.8Z" fill="none" stroke="#008000" stroke-width="1.4"/>
<path d="M626.2,69.9L630.6,74.3L626.2,78.7L621.8,74.3Z" fill="none" stroke="#008000" stroke-width="1.4"/>
<path d="M630.5,67.9L634.9,72.3L630.5,76.7L626.1,72.3Z" fill="none" stroke="#008000" stroke-width="1.4"/>
<path d="M409.5,378.0 L424.6,353.2 L440.0,329.5 L455.0,305.0 L470.0,281.0 L485.4,258.3 L500.6,234.0 L515.6,209.5 L531.5,185.0 L550.5,162.7 L568.6,138.9 L589.1,115.0 L598.0,109.8 L602.7,106.4 L607.5,103.0 L612.3,99.6 L617.7,96.2 L622.5,92.7 L628.0,89.3" fill="none" stroke="#dc634b" stroke-width="1.3" stroke-linejoin="round"/>
<path d="M409.5,373.6L413.9,378.0L409.5,382.4L405.1,378.0Z" fill="none" stroke="#dc634b" stroke-width="1.4"/>
<path d="M424.6,348.8L429.0,353.2L424.6,357.6L420.2,353.2Z" fill="none" stroke="#dc634b" stroke-width="1.4"/>
<path d="M440.0,325.1L444.4,329.5L440.0,333.9L435.6,329.5Z" fill="none" stroke="#dc634b" stroke-width="1.4"/>
<path d="M455.0,300.6L459.4,305.0L455.0,309.4L450.6,305.0Z" fill="none" stroke="#dc634b" stroke-width="1.4"/>
<path d="M470.0,276.6L474.4,281.0L470.0,285.4L465.6,281.0Z" fill="none" stroke="#dc634b" stroke-width="1.4"/>
<path d="M485.4,253.9L489.8,258.3L485.4,262.7L481.0,258.3Z" fill="none" stroke="#dc634b" stroke-width="1.4"/>
<path d="M500.6,229.6L505.0,234.0L500.6,238.4L496.2,234.0Z" fill="none" stroke="#dc634b" stroke-width="1.4"/>
<path d="M515.6,205.1L520.0,209.5L515.6,213.9L511.2,209.5Z" fill="none" stroke="#dc634b" stroke-width="1.4"/>
<path d="M531.5,180.6L535.9,185.0L531.5,189.4L527.1,185.0Z" fill="none" stroke="#dc634b" stroke-width="1.4"/>
<path d="M550.5,158.3L554.9,162.7L550.5,167.1L546.1,162.7Z" fill="none" stroke="#dc634b" stroke-width="1.4"/>
<path d="M568.6,134.5L573.0,138.9L568.6,143.3L564.2,138.9Z" fill="none" stroke="#dc634b" stroke-width="1.4"/>
<path d="M589.1,110.6L593.5,115.0L589.1,119.4L584.7,115.0Z" fill="none" stroke="#dc634b" stroke-width="1.4"/>
<path d="M598.0,105.4L602.4,109.8L598.0,114.2L593.6,109.8Z" fill="none" stroke="#dc634b" stroke-width="1.4"/>
<path d="M602.7,102.0L607.1,106.4L602.7,110.8L598.3,106.4Z" fill="none" stroke="#dc634b" stroke-width="1.4"/>
<path d="M607.5,98.6L611.9,103.0L607.5,107.4L603.1,103.0Z" fill="none" stroke="#dc634b" stroke-width="1.4"/>
<path d="M612.3,95.2L616.7,99.6L612.3,104.0L607.9,99.6Z" fill="none" stroke="#dc634b" stroke-width="1.4"/>
<path d="M617.7,91.8L622.1,96.2L617.7,100.6L613.3,96.2Z" fill="none" stroke="#dc634b" stroke-width="1.4"/>
<path d="M622.5,88.3L626.9,92.7L622.5,97.1L618.1,92.7Z" fill="none" stroke="#dc634b" stroke-width="1.4"/>
<path d="M628.0,84.9L632.4,89.3L628.0,93.7L623.6,89.3Z" fill="none" stroke="#dc634b" stroke-width="1.4"/>
</g>
<rect x="576.2" y="203.2" width="86.2" height="160.2" fill="#fff" stroke="#8a8a8a" stroke-width="1.2"/>
<line x1="579.3" y1="217.2" x2="629" y2="217.2" stroke="#000000" stroke-width="1.1"/>
<rect x="601.5" y="214.5" width="5.3" height="5.3" fill="none" stroke="#000000" stroke-width="1.4"/>
<text x="634.5" y="224.7" font-size="22.6">Zr</text>
<line x1="579.3" y1="244.1" x2="629" y2="244.1" stroke="#ff0000" stroke-width="1.1"/>
<circle cx="604.1" cy="244.1" r="4.0" fill="#ff0000"/>
<text x="634.5" y="251.6" font-size="22.6">W</text>
<line x1="579.3" y1="271.0" x2="629" y2="271.0" stroke="#0000ff" stroke-width="1.1"/>
<path d="M604.1,265.4L608.9,273.8L599.4,273.8Z" fill="#0000ff"/>
<text x="634.5" y="278.5" font-size="22.6">Ag</text>
<line x1="579.3" y1="297.9" x2="629" y2="297.9" stroke="#ff00ff" stroke-width="1.1"/>
<path d="M604.1,292.3L608.9,300.7L599.4,300.7Z" fill="#ff00ff"/>
<text x="634.5" y="305.4" font-size="22.6">Au</text>
<line x1="579.3" y1="324.8" x2="629" y2="324.8" stroke="#008000" stroke-width="1.1"/>
<path d="M604.1,320.4L608.5,324.8L604.1,329.2L599.8,324.8Z" fill="none" stroke="#008000" stroke-width="1.4"/>
<text x="634.5" y="332.3" font-size="22.6">Pd</text>
<line x1="579.3" y1="351.7" x2="629" y2="351.7" stroke="#dc634b" stroke-width="1.1"/>
<path d="M604.1,347.3L608.5,351.7L604.1,356.1L599.8,351.7Z" fill="none" stroke="#dc634b" stroke-width="1.4"/>
<text x="634.5" y="359.2" font-size="22.6">Pt</text>
<text x="354.6" y="20.8" font-size="22">(b)</text>
<text x="0" y="0" font-size="22" text-anchor="middle" transform="translate(365,205.5) rotate(-90)">Stress (GPa)</text>
<text x="543" y="436" font-size="22" text-anchor="middle">Strain</text>
</svg>
</body></html>
